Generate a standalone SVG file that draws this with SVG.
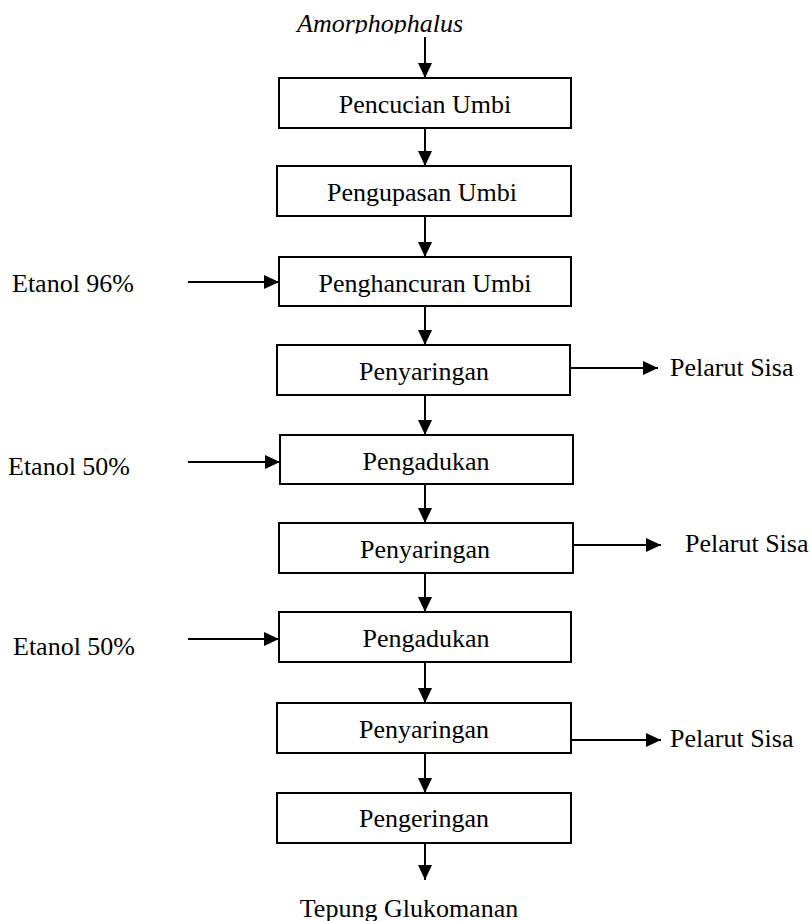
<svg xmlns="http://www.w3.org/2000/svg" width="811" height="921" viewBox="0 0 811 921">
<style>
text{font-family:"Liberation Serif","Times New Roman",serif;font-size:26px;fill:#000}
.box{fill:#fff;stroke:#000;stroke-width:2}
.c{text-anchor:middle}
.ln{stroke:#000;stroke-width:2;fill:none;marker-end:url(#ah)}
</style>
<defs>
<marker id="ah" viewBox="0 0 15 14" refX="15" refY="7" markerWidth="15" markerHeight="14" markerUnits="userSpaceOnUse" orient="auto">
<path d="M0,0 L15,7 L0,14 Z" fill="#000"/>
</marker>
<clipPath id="topclip"><rect x="0" y="0" width="811" height="33.5"/></clipPath>
</defs>
<rect width="811" height="921" fill="#fff"/>
<g id="connectors">
<line class="ln" x1="425" y1="37" x2="425" y2="78"/>
<line class="ln" x1="425" y1="128" x2="425" y2="166"/>
<line class="ln" x1="425" y1="216" x2="425" y2="257"/>
<line class="ln" x1="425" y1="306" x2="425" y2="345"/>
<line class="ln" x1="425" y1="395" x2="425" y2="435"/>
<line class="ln" x1="425" y1="484" x2="425" y2="523"/>
<line class="ln" x1="425" y1="573" x2="425" y2="612"/>
<line class="ln" x1="425" y1="662" x2="425" y2="703"/>
<line class="ln" x1="425" y1="753" x2="425" y2="793"/>
<line class="ln" x1="425" y1="843" x2="425" y2="880"/>
<line class="ln" x1="188" y1="282" x2="279" y2="282"/>
<line class="ln" x1="188" y1="462" x2="280" y2="462"/>
<line class="ln" x1="188" y1="639" x2="279" y2="639"/>
<line class="ln" x1="570" y1="368" x2="658" y2="368"/>
<line class="ln" x1="573" y1="545" x2="661" y2="545"/>
<line class="ln" x1="571" y1="740" x2="661" y2="740"/>
</g>
<g id="n_amorphophalus"><text x="297" y="32" font-style="italic" clip-path="url(#topclip)">Amorphophalus</text></g>
<g id="n1"><rect class="box" x="279" y="78" width="292" height="50"/><text class="c" x="425" y="113">Pencucian Umbi</text></g>
<g id="n2"><rect class="box" x="277" y="166" width="294" height="50"/><text class="c" x="422" y="201">Pengupasan Umbi</text></g>
<g id="n3"><rect class="box" x="279" y="257" width="292" height="49"/><text class="c" x="425" y="292">Penghancuran Umbi</text></g>
<g id="n4"><rect class="box" x="277" y="345" width="293" height="50"/><text class="c" x="424" y="380">Penyaringan</text></g>
<g id="n5"><rect class="box" x="280" y="435" width="293" height="49"/><text class="c" x="426" y="470">Pengadukan</text></g>
<g id="n6"><rect class="box" x="279" y="523" width="294" height="50"/><text class="c" x="425" y="558">Penyaringan</text></g>
<g id="n7"><rect class="box" x="279" y="612" width="292" height="50"/><text class="c" x="426" y="647">Pengadukan</text></g>
<g id="n8"><rect class="box" x="277" y="703" width="294" height="50"/><text class="c" x="424" y="738">Penyaringan</text></g>
<g id="n9"><rect class="box" x="277" y="793" width="294" height="50"/><text class="c" x="424" y="827">Pengeringan</text></g>
<g id="in1"><text x="12" y="292">Etanol 96%</text></g>
<g id="in2"><text x="8" y="475">Etanol 50%</text></g>
<g id="in3"><text x="13" y="655">Etanol 50%</text></g>
<g id="out1"><text x="670" y="376">Pelarut Sisa</text></g>
<g id="out2"><text x="685" y="552">Pelarut Sisa</text></g>
<g id="out3"><text x="670" y="747">Pelarut Sisa</text></g>
<g id="n_end"><text class="c" x="409" y="917">Tepung Glukomanan</text></g>
</svg>
